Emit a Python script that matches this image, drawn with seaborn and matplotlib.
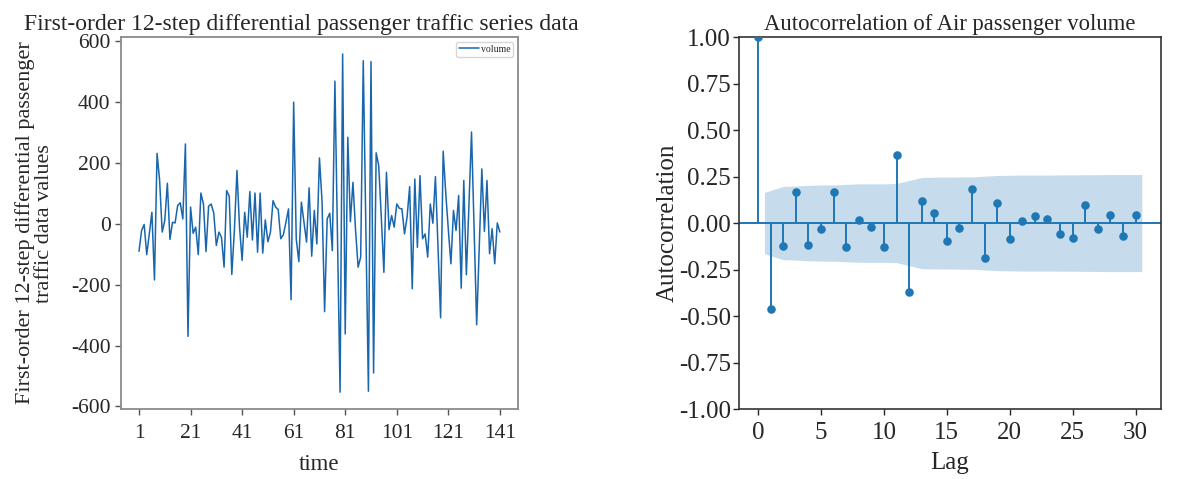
import numpy as np
import pandas as pd
import matplotlib
matplotlib.use("Agg")
import matplotlib.pyplot as plt
import seaborn as sns

# ---------------- data ----------------
volume = [-91, -23, -3, -102, -34, 37, -185, 230, 141, -28,
          10, 132, -52, 4, 2, 59, 68, 15, 261, -370,
          54, -32, -12, -102, 100, 64, -92, 57, 64, 34,
          -72, -28, -45, -143, 108, 90, -167, -23, 174, -12,
          -121, 37, -45, 105, -54, 100, -94, 100, -97, 12,
          -60, -28, 75, 54, 46, -50, -37, 4, 48, -250,
          398, -50, -125, 70, 4, -61, 117, -107, 43, -67,
          215, 75, -289, 15, 34, -89, 467, -40, -553, 556,
          -362, 283, 6, 135, -20, -143, -110, 534, 0, -550,
          531, -490, 232, 190, 20, -160, 168, -20, 26, -12,
          64, 50, 48, -34, 21, 121, -214, 146, -78, 157,
          -50, -34, -110, 64, 1, 154, -80, -309, 237, 100,
          -20, -132, 43, -23, 92, -212, 141, -168, 60, 300,
          -10, -332, -80, 179, -26, 141, -99, -17, -132, 2,
          -28]
time_index = list(range(1, len(volume) + 1))
left_xticks = [1, 21, 41, 61, 81, 101, 121, 141]
left_yticks = [-600, -400, -200, 0, 200, 400, 600]

acf_lags = list(range(31))
acf_values = [1.0, -0.46, -0.123, 0.169, -0.116, -0.034, 0.169, -0.127, 0.016, -0.020,
              -0.127, 0.365, -0.372, 0.120, 0.053, -0.094, -0.029, 0.183, -0.187, 0.109,
              -0.083, 0.009, 0.038, 0.020, -0.060, -0.080, 0.098, -0.034, 0.042, -0.067,
              0.042]
# confidence band half-width for lags 1..30
band_half = [0.165, 0.197, 0.199, 0.203, 0.205, 0.205, 0.208, 0.211, 0.211, 0.211,
             0.213, 0.229, 0.245, 0.247, 0.247, 0.248, 0.248, 0.252, 0.256, 0.257,
             0.258, 0.258, 0.258, 0.259, 0.259, 0.260, 0.260, 0.261, 0.261, 0.261]
right_xticks = [0, 5, 10, 15, 20, 25, 30]
right_yticks = [-1.0, -0.75, -0.5, -0.25, 0.0, 0.25, 0.5, 0.75, 1.0]

# ---------------- style ----------------
sns.set_theme(style="ticks")
plt.rcParams['font.family'] = ['Liberation Serif', 'DejaVu Serif']
plt.rcParams['axes.unicode_minus'] = False

line_color = '#1a66ad'
acf_color = '#1f77b4'

fig = plt.figure(figsize=(12, 4.79), dpi=100)
ax1 = fig.add_axes([0.1008, 0.146, 0.3308, 0.7766])
ax2 = fig.add_axes([0.6158, 0.146, 0.3517, 0.7766])

# ---------------- left panel ----------------
df = pd.DataFrame({'time': time_index, 'volume': volume})
sns.lineplot(data=df, x='time', y='volume', ax=ax1, color=line_color,
             linewidth=1.1, label='volume')
ax1.set_xticks(left_xticks)
ax1.set_yticks(left_yticks)
ax1.margins(x=0.05, y=0.05)
ax1.tick_params(labelsize=15.5, length=4, width=1, color='#555555')
ax1.tick_params(axis='x', pad=7)
ax1.set_title('First-order 12-step differential passenger traffic series data',
              fontsize=17, pad=5, x=0.455)
ax1.set_xlabel('time', fontsize=16.5, labelpad=8)
ax1.set_ylabel('First-order 12-step differential passenger\ntraffic data values',
               fontsize=16, labelpad=12, linespacing=1.05)
for sp in ax1.spines.values():
    sp.set_color('#8a8a8a')
    sp.set_linewidth(1.3)
leg = ax1.legend(loc='upper right', fontsize=7, frameon=True, handlelength=2.0,
                 handletextpad=0.2, borderpad=0.3, fancybox=True)
leg.get_frame().set_edgecolor('#cccccc')

# ---------------- right panel ----------------
band_x = [float(v) for v in acf_lags[1:]]
band_x[0] -= 0.5
band_x[-1] += 0.5
band_arr = np.array(band_half)
ax2.fill_between(band_x, -band_arr, band_arr, color=acf_color, alpha=0.25, linewidth=0)
ax2.vlines(acf_lags, 0, acf_values, color=acf_color, linewidth=1.4)
ax2.axhline(0, color=acf_color, linewidth=1.4)
acf_df = pd.DataFrame({'lag': acf_lags, 'acf': acf_values})
sns.scatterplot(data=acf_df, x='lag', y='acf', ax=ax2, color=acf_color,
                s=38, edgecolor=acf_color, linewidth=0, zorder=3)
ax2.set_xlim(-1.525, 32.025)
ax2.set_ylim(-1.0, 1.0)
ax2.set_xticks(right_xticks)
ax2.set_yticks(right_yticks)
ax2.set_yticklabels([f'{v:.2f}' for v in right_yticks])
ax2.tick_params(labelsize=18, length=4, width=1)
ax2.tick_params(axis='y', pad=2)
ax2.tick_params(axis='x', pad=5)
ax2.set_title('Autocorrelation of Air passenger volume', fontsize=16.3, pad=5)
ax2.set_xlabel('Lag', fontsize=18, labelpad=6)
ax2.set_ylabel('Autocorrelation', fontsize=18, labelpad=0)
for sp in ax2.spines.values():
    sp.set_color('#333333')
    sp.set_linewidth(1.2)

fig.savefig('out.png', dpi=100)
